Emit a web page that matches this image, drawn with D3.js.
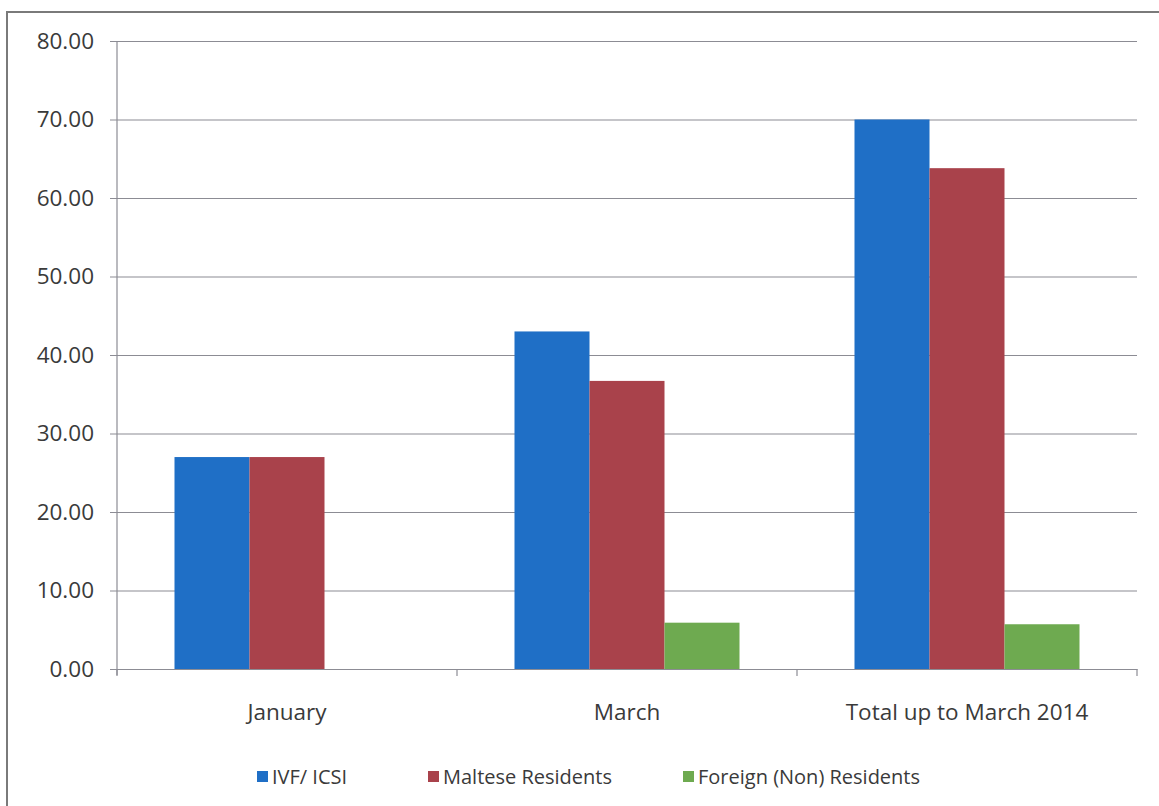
<!DOCTYPE html>
<html>
<head>
<meta charset="utf-8">
<script src="https://cdn.jsdelivr.net/npm/d3@7"></script>
<style>
  html, body { margin: 0; padding: 0; background: #ffffff; }
  svg { display: block; }
  text { font-family: "Open Sans", "Liberation Sans", sans-serif; fill: #3a3a3a; }
</style>
</head>
<body>
<svg id="chart" width="1159" height="806"></svg>
<script>
// ---- data ----
const categories = ["January", "March", "Total up to March 2014"];
const seriesNames = ["IVF/ ICSI", "Maltese Residents", "Foreign (Non) Residents"];
const ivfIcsi = [27, 43, 70];
const malteseResidents = [27, 36.7, 63.8];
const foreignResidents = [0, 5.9, 5.7];
const yTicks = [0, 10, 20, 30, 40, 50, 60, 70, 80];

const seriesValues = [ivfIcsi, malteseResidents, foreignResidents];
const colors = ["#1f6fc6", "#a9424b", "#6eaa50"];

const svg = d3.select("#chart");
const W = 1159, H = 806;

// outer frame (scan shows a page border cut by the right and bottom edges)
svg.append("rect")
  .attr("x", 7).attr("y", 12)
  .attr("width", W + 20).attr("height", H + 20)
  .attr("fill", "none").attr("stroke", "#7a7a7a").attr("stroke-width", 2);

const plot = { left: 117, right: 1137, top: 41, bottom: 669 };

const y = d3.scaleLinear().domain([0, 80]).range([plot.bottom, plot.top]);
const x0 = d3.scaleBand().domain(categories).range([plot.left, plot.right]).paddingInner(0).paddingOuter(0);
const groupW = x0.bandwidth() * 225 / 340;
const x1 = d3.scaleBand().domain(d3.range(seriesNames.length)).range([0, groupW]).padding(0);

// gridlines + y axis
const yAxis = d3.axisLeft(y).tickValues(yTicks).tickFormat(d3.format(".2f"))
  .tickSize(-(plot.right - plot.left) - 7).tickPadding(16);
const gy = svg.append("g").attr("transform", `translate(${plot.left - 7},0)`).call(yAxis);
gy.select(".domain").remove();
gy.selectAll(".tick line").attr("stroke", "#8c8c94").attr("stroke-width", 1.2)
  .attr("x1", 0).attr("x2", plot.right - plot.left + 7);
gy.selectAll(".tick text").attr("font-size", 22.5).attr("fill", "#3a3a3a")
  .attr("x", -16);

// vertical axis line
svg.append("line")
  .attr("x1", plot.left).attr("x2", plot.left)
  .attr("y1", plot.top).attr("y2", plot.bottom + 6)
  .attr("stroke", "#8c8c94").attr("stroke-width", 1.2);

// bars
const groups = svg.append("g").selectAll("g").data(categories).join("g")
  .attr("transform", d => `translate(${x0(d) + (x0.bandwidth() - groupW) / 2},0)`);
groups.selectAll("rect")
  .data((c, ci) => seriesValues.map((s, si) => ({ si, v: s[ci] })))
  .join("rect")
  .attr("x", d => x1(d.si))
  .attr("width", x1.bandwidth())
  .attr("y", d => y(d.v))
  .attr("height", d => y(0) - y(d.v))
  .attr("fill", d => colors[d.si]);

// x axis
const xAxis = d3.axisBottom(x0).tickSize(0).tickPadding(0);
const gx = svg.append("g").attr("transform", `translate(0,${plot.bottom})`).call(xAxis);
gx.select(".domain").attr("stroke", "#8c8c94").attr("stroke-width", 1.2);
gx.selectAll(".tick text").attr("font-size", 22.5).attr("fill", "#3a3a3a")
  .attr("y", 43).attr("dy", "0.35em");
// category boundary tick marks
const boundaries = categories.map(c => x0(c)).concat([plot.right]);
svg.append("g").selectAll("line").data(boundaries).join("line")
  .attr("x1", d => d).attr("x2", d => d)
  .attr("y1", plot.bottom).attr("y2", plot.bottom + 7)
  .attr("stroke", "#8c8c94").attr("stroke-width", 1.2);

// legend
const legendX = [257, 428, 683];
const leg = svg.append("g").selectAll("g").data(seriesNames).join("g")
  .attr("transform", (d, i) => `translate(${legendX[i]},777)`);
leg.append("rect").attr("x", 0).attr("y", -6).attr("width", 11).attr("height", 11)
  .attr("fill", (d, i) => colors[i]);
leg.append("text").attr("x", 15).attr("y", 0).attr("dy", "0.35em")
  .attr("font-size", 20).text(d => d);
</script>
</body>
</html>
